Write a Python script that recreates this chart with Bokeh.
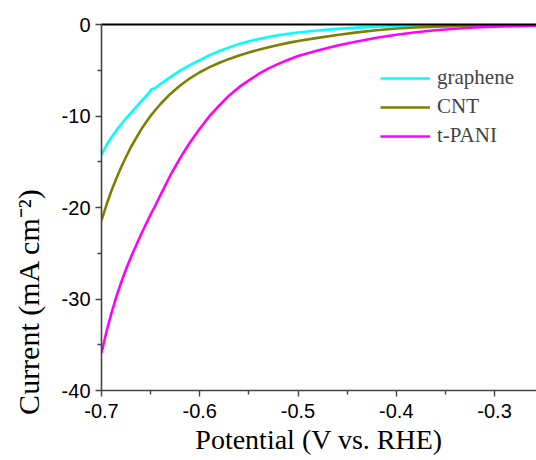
from bokeh.plotting import figure
from bokeh.models import LinearAxis, Legend, LegendItem, FixedTicker
from bokeh.embed import file_html
from bokeh.resources import INLINE

potential = [-0.700, -0.695, -0.690, -0.685, -0.680, -0.675, -0.670, -0.660, -0.652, -0.649, -0.646, -0.640,
             -0.630, -0.620, -0.610, -0.600, -0.590, -0.580, -0.570, -0.560, -0.550, -0.540,
             -0.530, -0.520, -0.510, -0.500, -0.480, -0.460, -0.440, -0.420, -0.400, -0.380,
             -0.360, -0.340, -0.320, -0.300, -0.280, -0.260, -0.250]
graphene = [-14.2, -13.2, -12.35, -11.6, -10.9, -10.25, -9.65, -8.45, -7.5, -7.05, -7.0, -6.5,
            -5.75, -5.05, -4.45, -3.9, -3.35, -2.9, -2.5, -2.12, -1.83, -1.58,
            -1.36, -1.17, -1.01, -0.87, -0.65, -0.48, -0.34, -0.24, -0.17, -0.12,
            -0.085, -0.06, -0.045, -0.035, -0.025, -0.02, -0.015]
cnt = [-21.4, -19.73, -18.2, -16.85, -15.6, -14.45, -13.39, -11.54, -10.28, -9.85, -9.45, -8.69,
       -7.59, -6.66, -5.88, -5.22, -4.66, -4.18, -3.76, -3.39, -3.05, -2.75,
       -2.48, -2.23, -2.01, -1.81, -1.46, -1.15, -0.86, -0.62, -0.44, -0.32,
       -0.235, -0.175, -0.13, -0.1, -0.075, -0.058, -0.05]
tpani = [-35.9, -33.6, -31.6, -29.8, -28.2, -26.75, -25.4, -23.0, -21.2, -20.55, -19.95, -18.65,
         -16.5, -14.6, -12.9, -11.4, -10.0, -8.85, -7.75, -6.85, -6.1, -5.4,
         -4.8, -4.3, -3.85, -3.45, -2.85, -2.3, -1.85, -1.45, -1.12, -0.85,
         -0.63, -0.46, -0.33, -0.24, -0.18, -0.14, -0.12]

series_names = ["graphene", "CNT", "t-PANI"]
series_colors = ["#00FFFF", "#7F7F00", "#FF00FF"]

x_ticks = [-0.7, -0.6, -0.5, -0.4, -0.3]
x_minor = [-0.65, -0.55, -0.45, -0.35, -0.25]
y_ticks = [0, -10, -20, -30, -40]
y_minor = [-5, -15, -25, -35]
x_title = "Potential (V vs. RHE)"
y_title = "Current (mA cm\u207b\u00b2)"

p = figure(width=536, height=460, output_backend="svg", toolbar_location=None,
           x_range=(-0.7, -0.2573), y_range=(-40, 0),
           min_border_left=101, min_border_right=0, min_border_top=24, min_border_bottom=70)
p.background_fill_color = "white"
p.border_fill_color = "white"
p.outline_line_color = None
p.grid.visible = False

renderers = []
for ys, c in zip([graphene, cnt, tpani], series_colors):
    r = p.line(potential, ys, line_color=c, line_width=2.6, line_join="round")
    renderers.append(r)

tick_font = "Liberation Sans"
title_font = "Liberation Serif"

xa = p.xaxis[0]
xa.ticker = FixedTicker(ticks=x_ticks, minor_ticks=x_minor)
xa.axis_label = x_title
ya = p.yaxis[0]
ya.ticker = FixedTicker(ticks=y_ticks, minor_ticks=y_minor)
# trailing no-break spaces push the title down, as it sits in the reference
ya.axis_label = y_title + "\u00a0" * 25

for ax in (xa, ya):
    ax.major_label_text_font = tick_font
    ax.major_label_text_font_size = "20px"
    ax.major_label_text_color = "black"
    ax.axis_label_text_font = title_font
    ax.axis_label_text_font_style = "normal"
    ax.axis_label_text_color = "black"
    ax.axis_line_color = "#444444"
    ax.axis_line_width = 1.6
    ax.major_tick_line_color = "#444444"
    ax.minor_tick_line_color = "#444444"
    ax.major_tick_line_width = 1.4
    ax.minor_tick_line_width = 1.4
    ax.major_tick_in = 0
    ax.minor_tick_in = 0
    ax.major_tick_out = 6
    ax.minor_tick_out = 4

xa.axis_label_text_font_size = "28px"
ya.axis_label_text_font_size = "30px"
xa.major_label_standoff = 7
xa.axis_label_standoff = 3
ya.major_label_standoff = 5
ya.axis_label_standoff = 14
ya.major_label_overrides = {t: str(t) for t in y_ticks}
xa.major_label_overrides = {t: f"{t:.1f}" for t in x_ticks}

top = LinearAxis(ticker=FixedTicker(ticks=[]), major_label_text_font_size="0px",
                 major_tick_line_color=None, minor_tick_line_color=None,
                 axis_line_color="black", axis_line_width=2)
p.add_layout(top, "above")

legend = Legend(items=[LegendItem(label=n, renderers=[r]) for n, r in zip(series_names, renderers)],
                location=(279, 242), padding=0, margin=0, spacing=4,
                glyph_width=50, glyph_height=20, label_height=20, label_standoff=7,
                label_text_font=title_font, label_text_font_size="21px",
                border_line_color=None, background_fill_alpha=0)
p.add_layout(legend)

open("out.html", "w").write(file_html(p, INLINE))
